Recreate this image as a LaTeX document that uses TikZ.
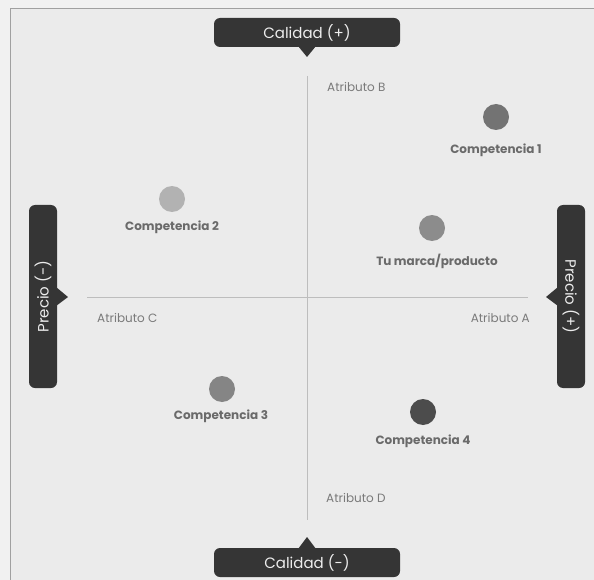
\documentclass[tikz,border=0pt]{standalone}
\usepackage{fontspec}
\setmainfont{Poppins}
\definecolor{bgout}{HTML}{F1F1F1}
\definecolor{bgin}{HTML}{EBEBEB}
\definecolor{boxc}{HTML}{353535}
\definecolor{axisc}{HTML}{BDBDBD}
\definecolor{attrc}{HTML}{7A7A7A}
\definecolor{labc}{HTML}{6A6A6A}
\definecolor{frame}{HTML}{A0A0A0}
\tikzset{
  tagbox/.style={fill=boxc, rounded corners=6pt, inner sep=0pt, text=white!93!black, font=\fontsize{15}{17}\selectfont},
  attr/.style={text=attrc, font=\fontsize{12}{14}\selectfont, inner sep=0pt},
  lab/.style={text=labc, font=\fontsize{12}{14}\selectfont\bfseries, inner sep=0pt},
  dot/.style={circle, minimum size=26pt, inner sep=0pt},
  axis/.style={draw=axisc, line width=0.9pt}
}
\begin{document}
\begin{tikzpicture}[x=1pt,y=-1pt]
\useasboundingbox (0,0) rectangle (594,580);
\fill[bgout] (0,0) rectangle (594,580);
\fill[bgin] (10,8) rectangle (594,580);
\draw[frame, line width=1.6pt] (10.5,580) -- (10.5,8.5) -- (594,8.5);
% axes
\coordinate (vt) at (307,76);
\coordinate (vb) at (307,520);
\coordinate (hl) at (87,297);
\coordinate (hr) at (528,297);
\draw[axis] (vt) -- (vb);
\draw[axis] (hl) -- (hr);
% tag boxes
\node[tagbox, minimum width=186pt, minimum height=29pt] (top) at (307,32.5) {Calidad (+)};
\fill[boxc] (298,46) -- (316,46) -- (307,57) -- cycle;
\node[tagbox, minimum width=186pt, minimum height=29pt] (bot) at (307,562.5) {Calidad (-)};
\fill[boxc] (298,549) -- (316,549) -- (307,537) -- cycle;
\node[tagbox, minimum width=183pt, minimum height=28pt, rotate=90] (left) at (43,296.5) {Precio (-)};
\fill[boxc] (56,287) -- (56,306) -- (68,297) -- cycle;
\node[tagbox, minimum width=183pt, minimum height=28pt, rotate=-90] (right) at (571,296.5) {Precio (+)};
\fill[boxc] (558,287) -- (558,306) -- (546,297) -- cycle;
% attribute labels
\node[attr, anchor=west] (ab) at (327,87) {Atributo B};
\node[attr, anchor=west] (ac) at (97,318) {Atributo C};
\node[attr, anchor=east] (aa) at (530,318) {Atributo A};
\node[attr, anchor=west] (ad) at (326,498) {Atributo D};
% dots
\node[dot, fill=black!55] (c1) at (496,117) {};
\node[lab] (l1) at (496,150) {Competencia 1};
\node[dot, fill=black!30] (c2) at (172,199) {};
\node[lab] (l2) at (172,227) {Competencia 2};
\node[dot, fill=black!45] (tu) at (432,228) {};
\node[lab] (lt) at (437,261) {Tu marca/producto};
\node[dot, fill=black!48] (c3) at (222,389) {};
\node[lab] (l3) at (221,416) {Competencia 3};
\node[dot, fill=black!70] (c4) at (423,412) {};
\node[lab] (l4) at (423,441) {Competencia 4};
\end{tikzpicture}
\end{document}
